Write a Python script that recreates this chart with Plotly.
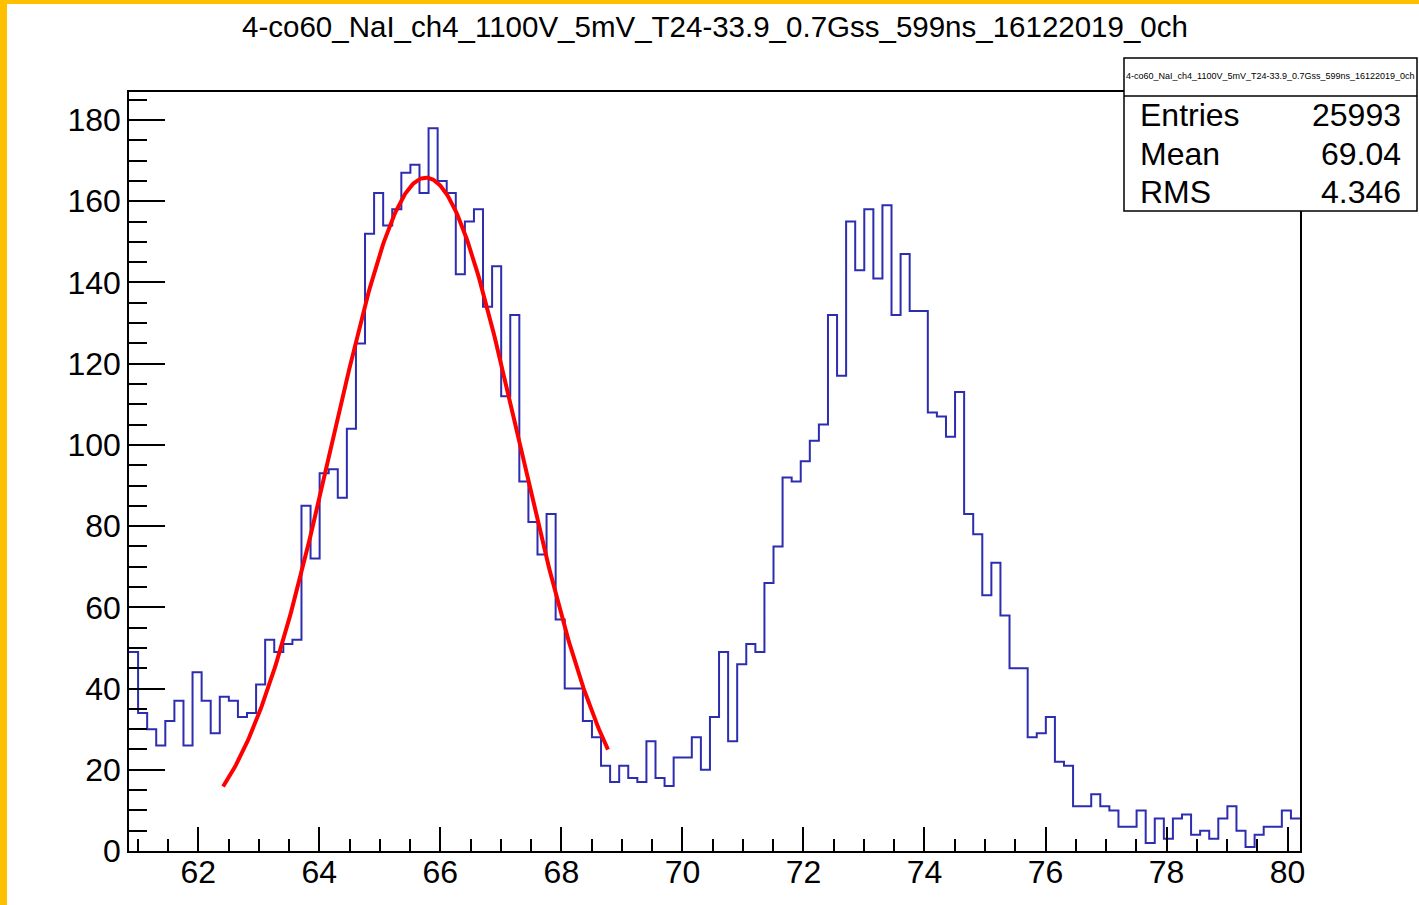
import numpy as np
import plotly.graph_objects as go

# ---------------- data ----------------
title_text = "4-co60_NaI_ch4_1100V_5mV_T24-33.9_0.7Gss_599ns_16122019_0ch"

hist_lo = 60.855
hist_hi = 80.205
counts = [
    49, 34, 30, 26, 32, 37, 26, 44, 37, 29,
    38, 37, 33, 34, 41, 52, 49, 51, 52, 85,
    72, 93, 94, 87, 104, 125, 152, 162, 154, 158,
    167, 169, 162, 178, 165, 162, 142, 155, 158, 134,
    144, 112, 132, 91, 81, 73, 83, 57, 40, 40,
    32, 28, 21, 17, 21, 18, 17, 27, 18, 16,
    23, 23, 28, 20, 33, 49, 27, 46, 51, 49,
    66, 75, 92, 91, 96, 101, 105, 132, 117, 155,
    143, 158, 141, 159, 132, 147, 133, 133, 108, 107,
    102, 113, 83, 78, 63, 71, 58, 45, 45, 28,
    29, 33, 22, 21, 11, 11, 14, 11, 10, 6,
    6, 10, 2, 8, 3, 8, 9, 4, 5, 3,
    8, 11, 5, 1, 4, 6, 6, 10, 8,
]

# gaussian fit parameters (constant, mean, sigma) and fit range
fit_const = 165.8
fit_mean = 65.76
fit_sigma = 1.547
fit_lo = 62.41
fit_hi = 68.77

stats_labels = ["Entries", "Mean", "RMS"]
stats_values = ["25993", "69.04", "4.346"]

x_tickvals = [62, 64, 66, 68, 70, 72, 74, 76, 78, 80]
y_tickvals = [0, 20, 40, 60, 80, 100, 120, 140, 160, 180]
y_max = 186.9

# ---------------- layout constants ----------------
W, H = 1419, 905
ML, MR, MT, MB = 129, 119, 92, 54
PW = W - ML - MR
PH = H - MT - MB
FONT = "Liberation Sans, Arial, Helvetica, sans-serif"
ORANGE = "#FFC000"


def px_x(p):
    return (p - ML) / PW


def px_y(p):
    return (H - MB - p) / PH


nb = len(counts)
edges = np.linspace(hist_lo, hist_hi, nb + 1)
step_y = list(counts) + [counts[-1]]

fit_x = np.linspace(fit_lo, fit_hi, 300)
fit_y = fit_const * np.exp(-0.5 * ((fit_x - fit_mean) / fit_sigma) ** 2)

fig = go.Figure()
fig.add_trace(go.Scatter(
    x=edges, y=step_y, mode="lines", line=dict(color="#2d2db0", width=2, shape="hv"),
    hoverinfo="skip", showlegend=False,
))
fig.add_trace(go.Scatter(
    x=fit_x, y=fit_y, mode="lines", line=dict(color="#ff0000", width=4),
    hoverinfo="skip", showlegend=False,
))

axis_common = dict(
    showgrid=False, zeroline=False, showline=True, mirror=True,
    linecolor="black", linewidth=1.5, ticks="inside", tickcolor="black",
    tickwidth=1.5, tickfont=dict(family=FONT, size=32, color="black"),
)

fig.update_xaxes(
    range=[hist_lo, hist_hi], tickvals=x_tickvals, ticklen=24, ticklabelstandoff=-8,
    minor=dict(dtick=0.5, tick0=0, ticklen=12, ticks="inside", tickcolor="black", tickwidth=1.5),
    **axis_common,
)
fig.update_yaxes(
    range=[0, y_max], tickvals=y_tickvals, ticklen=36,
    minor=dict(dtick=5, tick0=0, ticklen=18, ticks="inside", tickcolor="black", tickwidth=1.5),
    **axis_common,
)

shapes = []
# orange frame strips (left, top)
shapes.append(dict(type="rect", xref="paper", yref="paper", x0=px_x(0), x1=px_x(7),
                   y0=px_y(H), y1=px_y(0), fillcolor=ORANGE, line=dict(width=0), layer="above"))
shapes.append(dict(type="rect", xref="paper", yref="paper", x0=px_x(0), x1=px_x(W),
                   y0=px_y(4), y1=px_y(0), fillcolor=ORANGE, line=dict(width=0), layer="above"))
# stats box
shapes.append(dict(type="rect", xref="paper", yref="paper", x0=px_x(1124), x1=px_x(1417),
                   y0=px_y(211), y1=px_y(58), fillcolor="white",
                   line=dict(color="black", width=1.5), layer="above"))
shapes.append(dict(type="line", xref="paper", yref="paper", x0=px_x(1124), x1=px_x(1417),
                   y0=px_y(96), y1=px_y(96), line=dict(color="black", width=1.5), layer="above"))

annotations = []
annotations.append(dict(text=title_text, xref="paper", yref="paper", x=px_x(1270), y=px_y(76),
                        xanchor="center", yanchor="middle", showarrow=False,
                        font=dict(family=FONT, size=9, color="black")))
row_y = [115, 154, 192]
for lab, val, ry in zip(stats_labels, stats_values, row_y):
    annotations.append(dict(text=lab, xref="paper", yref="paper", x=px_x(1138), y=px_y(ry),
                            xanchor="left", yanchor="middle", showarrow=False,
                            font=dict(family=FONT, size=32, color="black")))
    annotations.append(dict(text=val, xref="paper", yref="paper", x=px_x(1403), y=px_y(ry),
                            xanchor="right", yanchor="middle", showarrow=False,
                            font=dict(family=FONT, size=32, color="black")))

fig.update_layout(
    width=W, height=H,
    margin=dict(l=ML, r=MR, t=MT, b=MB, pad=0),
    paper_bgcolor="white", plot_bgcolor="white",
    title=dict(text=title_text, x=px_x(715), xref="paper", xanchor="center",
               y=1 - 27 / H, yref="container", yanchor="middle",
               font=dict(family=FONT, size=29.5, color="black")),
    shapes=shapes, annotations=annotations, showlegend=False,
)

fig.write_html("out.html", config={"displayModeBar": False})
